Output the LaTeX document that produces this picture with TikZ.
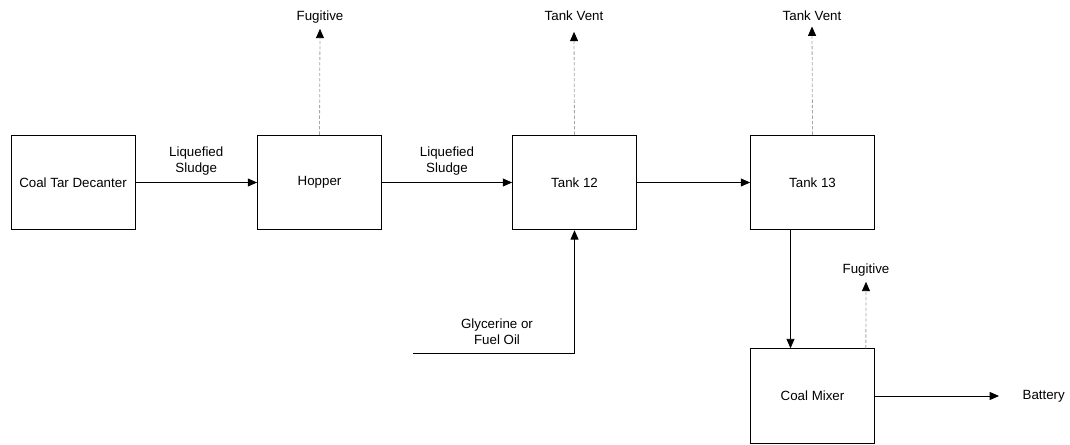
\documentclass[tikz,border=0pt]{standalone}
\usepackage{fontspec}
\setmainfont{Liberation Sans}
\usetikzlibrary{arrows.meta}

\begin{document}
\begin{tikzpicture}[x=0.75pt,y=-0.75pt,
        font=\fontsize{10}{12}\selectfont,
        unit/.style={draw,line width=0.6pt,minimum width=93pt,minimum height=71pt,inner sep=2pt},
        flow/.style={line width=0.6pt,-{Triangle[length=7pt,width=6pt]}},
        vent/.style={gray!70,line width=0.6pt,dash pattern=on 2.5pt off 1.5pt,-{Triangle[length=7pt,width=6pt,color=black]}},
        lbl/.style={align=center,inner sep=1pt}]

        \useasboundingbox (0,0) rectangle (1070,445);

        % Process units
        \node[unit] (decanter) at (73,182.5) {Coal Tar Decanter};
        \node[unit] (hopper) at (319.5,182.5) {Hopper};
        \node[unit] (tank12) at (574.5,182.5) {Tank 12};
        \node[unit] (tank13) at (812.5,182.5) {Tank 13};
        \node[unit] (mixer) at (812.5,396) {Coal Mixer};

        % Main flow
        \draw[flow] (decanter) -- (hopper) node[lbl,midway,above=4pt] {Liquefied\\Sludge};
        \draw[flow] (hopper) -- (tank12) node[lbl,midway,above=4pt] {Liquefied\\Sludge};
        \draw[flow] (tank12) -- (tank13);
        \draw[flow] ([xshift=-16.5pt]tank13.south) -- ([xshift=-16.5pt]mixer.north);

        % Emissions
        \node[lbl] (fug1) at (320,17) {Fugitive};
        \node[lbl] (vent12) at (574,16) {Tank Vent};
        \node[lbl] (vent13) at (812,16) {Tank Vent};
        \node[lbl] (fug2) at (866,270) {Fugitive};
        \draw[vent] (hopper.north) -- ([yshift=-3pt]fug1.south);
        \draw[vent] (tank12.north) -- ([yshift=-7pt]vent12.south);
        \draw[vent] (tank13.north) -- ([yshift=-3pt]vent13.south);
        \draw[vent] ([xshift=40pt]mixer.north) -- ([yshift=-3pt]fug2.south);

        % Additive feed
        \coordinate (glyc) at (413,353);
        \node[lbl] (glyclbl) at (497,332) {Glycerine or\\Fuel Oil};
        \draw[flow] (glyc) -| (tank12.south);

        % Product
        \coordinate (batt) at (999,396);
        \node[lbl,anchor=west] (battery) at (1021,396) {Battery};
        \draw[flow] (mixer) -- (batt);

    \end{tikzpicture}
\end{document}
